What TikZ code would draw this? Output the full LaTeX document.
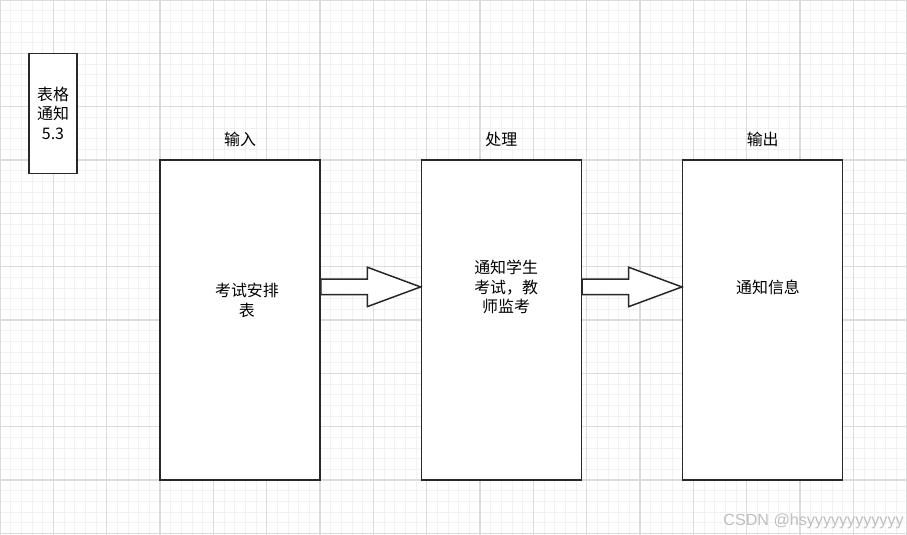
\documentclass[tikz,border=0pt]{standalone}
\usepackage{fontspec}
\setmainfont{Noto Sans CJK SC}
\newfontfamily\markfont{Liberation Sans}
\usetikzlibrary{positioning,calc}
\definecolor{gridminor}{RGB}{241,241,241}
\definecolor{gridmajor}{RGB}{220,220,220}
\definecolor{boxline}{RGB}{40,40,40}
\definecolor{markgray}{RGB}{190,190,190}

% block arrow from the east side of #1 to the west side of #2
\newcommand{\flowarrow}[2]{%
  \path ($(#1.east)+(0,0.62)$) coordinate (fa-s) ($(#2.west)+(0,0.62)$) coordinate (fa-t);
  \draw[fatarrow] ($(fa-s)+(0,0.145)$) -- ($(fa-t)+(-1,0.145)$) -- ($(fa-t)+(-1,0.37)$) -- (fa-t)
    -- ($(fa-t)+(-1,-0.37)$) -- ($(fa-t)+(-1,-0.145)$) -- ($(fa-s)+(0,-0.145)$) -- cycle;}

\begin{document}
\begin{tikzpicture}[
    box/.style={draw=boxline, line width=0.8pt, fill=white, inner sep=0pt, minimum width=3cm, minimum height=6cm},
    tagbox/.style={draw=boxline, line width=0.8pt, fill=white, inner sep=0pt, minimum width=0.9cm, minimum height=2.25cm, align=center, font=\fontsize{8.5}{10.4}\selectfont},
    txt/.style={align=center, inner sep=0pt, font=\fontsize{8.5}{10.4}\selectfont},
    head/.style={inner sep=0pt, font=\fontsize{8.5}{10.4}\selectfont},
    fatarrow/.style={draw=boxline, line width=0.8pt, fill=white, line join=miter}
  ]
    \useasboundingbox (0,0) rectangle (17.006,-10.031);
    % Background grid
    \draw[gridminor, line width=0.5pt] (0,-10.031) grid[step=0.2] (17.006,0);
    \draw[gridmajor, line width=0.7pt] (0,-10.031) grid[step=1] (17.006,0);
    % Tag
    \node[tagbox] (tag) at (0.994,-2.125) {表格\\通知\\5.3};
    % Three stages
    \node[box] (in) at (4.5,-6) {};
    \node[box] (proc) at (9.4,-6) {};
    \node[box] (out) at (14.3,-6) {};
    \node[head, above=0.22 of in] (inhead) {输入};
    \node[head, above=0.22 of proc] (prochead) {处理};
    \node[head, above=0.22 of out] (outhead) {输出};
    \node[txt] (intxt) at ($(in.center)+(0.13,0.37)$) {考试安排\\表};
    \node[txt] (proctxt) at ($(proc.center)+(0.09,0.62)$) {通知学生\\考试，教\\师监考};
    \node[txt] (outtxt) at ($(out.center)+(0.1,0.62)$) {通知信息};
    % Arrows
    \flowarrow{in}{proc}
    \flowarrow{proc}{out}
    % Watermark
    \node[markgray, inner sep=0pt, anchor=east, font=\markfont\fontsize{8.6}{10}\selectfont] (mark) at (16.95,-9.77) {CSDN @hsyyyyyyyyyyyy};
  \end{tikzpicture}
\end{document}
